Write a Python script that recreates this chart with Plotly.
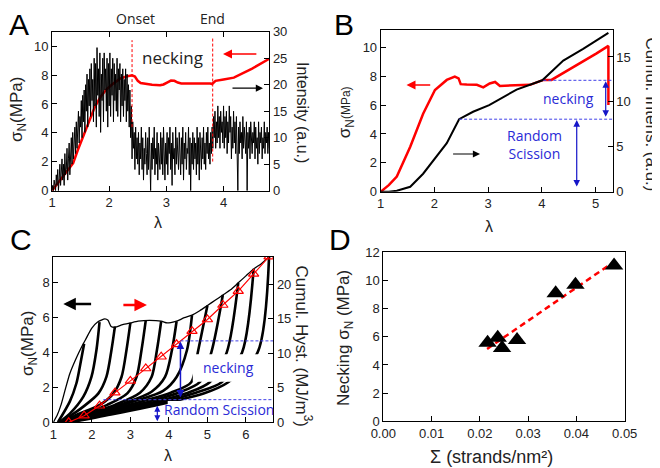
import plotly.graph_objects as go

# ---------------- Panel A ----------------
lam_a = [1.0, 1.1, 1.2, 1.3, 1.37, 1.45, 1.55, 1.65, 1.75, 1.85, 1.95, 2.05, 2.19, 2.3, 2.4,
         2.45, 2.5, 2.55, 2.65, 2.75, 2.89, 2.95, 3.02, 3.08, 3.14, 3.2, 3.26, 3.4, 3.6, 3.77,
         3.8, 3.86, 4.0, 4.18, 4.5, 4.8]
stress_a = [0, 0.5, 1.0, 1.5, 1.9, 2.8, 3.8, 4.8, 5.8, 6.5, 7.0, 7.35, 7.75, 7.9, 7.98,
            7.9, 7.6, 7.45, 7.38, 7.33, 7.29, 7.35, 7.5, 7.62, 7.6, 7.48, 7.42, 7.43, 7.44, 7.42,
            7.38, 7.6, 7.7, 7.82, 8.45, 9.13]
int_a = [0, 1, 0, 2, 1, 0, 3, 1, 4, 0, 2, 5, 1, 3, 6, 2, 5, 1, 7, 3,
         4, 8, 2, 6, 9, 3, 7, 10, 5, 11, 6, 9, 12, 7, 13, 8, 11, 15, 9, 14,
         12, 17, 10, 18, 13, 19, 11, 20, 15, 22, 12, 21, 16, 23, 14, 24, 17, 21, 13, 25,
         16, 24, 12, 27, 18, 23, 14, 26, 11, 22, 17, 25, 13, 26, 19, 23, 15, 25, 12, 24,
         16, 26, 14, 23, 18, 25, 13, 24, 17, 22, 15, 25, 14, 23, 19, 24, 13, 22, 16, 23,
         14, 21, 17, 23, 13, 22, 15, 20, 12, 19, 10, 16, 6, 13, 8, 11, 4, 12, 6, 10,
         5, 11, 3, 9, 6, 12, 4, 10, 2, 8, 5, 11, 7, 3, 10, 4, 12, 6, 0, 9,
         4, 10, 6, 12, 3, 8, 5, 11, 2, 9, 7, 4, 11, 5, 10, 3, 12, 6, 2, 9,
         5, 11, 3, 10, 7, 12, 4, 9, 1, 11, 6, 8, 3, 12, 5, 10, 7, 4, 11, 6,
         3, 10, 5, 12, 2, 9, 6, 11, 4, 8, 7, 12, 3, 10, 0, 9, 5, 11, 4, 10,
         6, 9, 3, 12, 5, 10, 2, 11, 7, 4, 10, 6, 12, 5, 9, 4, 11, 7, 12, 6,
         9, 5, 11, 7, 12, 8, 14, 10, 15, 8, 13, 9, 16, 10, 14, 8, 15, 11, 13, 9,
         16, 8, 14, 10, 15, 7, 13, 9, 16, 11, 14, 6, 12, 8, 15, 9, 13, 7, 14, 8,
         0, 12, 7, 13, 9, 11, 6, 14, 8, 12, 10, 7, 13, 0, 11, 8, 12, 6, 13, 9,
         7, 11, 9, 13, 6, 12, 8, 10, 5, 13, 7, 11, 9, 12, 6, 10, 8, 13, 7, 11,
         9, 12, 7, 11, 8]
lam_step_a = 0.0125
lam_int_a = [round(1.0 + lam_step_a * i, 4) for i in range(len(int_a))]
onset_lam, end_lam = 2.40, 3.81
onset_span = [12.0, 28.4]   # intensity units
end_span = [5.5, 28.9]

# ---------------- Panel B ----------------
lam_b_red = [1.0, 1.15, 1.3, 1.55, 1.79, 2.01, 2.23, 2.38, 2.45, 2.49, 2.6, 2.79, 2.91, 3.03,
             3.13, 3.22, 3.5, 3.78, 4.03, 4.18, 5.02, 5.24, 5.24]
stress_b = [0, 0.45, 1.05, 3.12, 5.4, 7.04, 7.74, 7.97, 7.85, 7.45, 7.42, 7.4, 7.23, 7.5,
            7.6, 7.32, 7.38, 7.4, 7.74, 7.74, 9.58, 10.1, 6.0]
lam_b_cum = [1.0, 1.15, 1.3, 1.55, 1.79, 2.04, 2.23, 2.46, 2.72, 3.02, 3.53, 4.01, 4.2, 4.4, 4.77, 5.24]
cum_b = [0, 0, 0.1, 0.55, 2.0, 3.9, 5.4, 8.07, 8.9, 9.63, 11.37, 12.4, 13.5, 14.6, 15.9, 17.67]
necking_level_b = 12.4
scission_level_b = 8.07
necking_start_b = 4.03
scission_start_b = 2.46

# ---------------- Panel C ----------------
env_lam = [1.0, 1.1, 1.2, 1.3, 1.43, 1.6, 1.74, 1.85, 2.0, 2.15, 2.34, 2.42, 2.5, 2.6, 2.8,
           3.0, 3.2, 3.5, 3.8, 3.95, 4.05, 4.2, 4.4, 4.6, 4.8, 5.0, 5.2, 5.4, 5.6, 5.8, 6.0,
           6.2, 6.4, 6.6]
env_stress = [0, 0.4, 1.0, 1.8, 2.8, 3.7, 4.35, 4.8, 5.4, 5.75, 5.93, 5.85, 5.5, 5.45, 5.6,
              5.7, 5.8, 5.85, 5.8, 5.7, 5.72, 5.8, 6.0, 6.15, 6.4, 6.7, 7.0, 7.3, 7.6, 8.0, 8.4,
              8.8, 9.1, 9.5]
cycle_lam = [
    [1.12, 1.43, 1.6, 1.69, 1.8],
    [1.15, 1.43, 1.78, 1.99, 2.12, 2.2],
    [1.2, 1.78, 2.17, 2.38, 2.51, 2.6],
    [1.25, 1.6, 2.21, 2.56, 2.77, 2.9, 3.0],
    [1.25, 1.7, 2.4, 2.92, 3.16, 3.29, 3.4],
    [1.3, 1.8, 2.6, 3.25, 3.55, 3.69, 3.8],
    [1.3, 1.9, 2.85, 3.55, 3.9, 4.08, 4.2],
    [1.3, 2.0, 3.1, 3.85, 4.2, 4.47, 4.6],
    [1.35, 2.1, 3.3, 4.05, 4.58, 4.75, 5.0],
    [1.35, 2.2, 3.5, 4.25, 4.8, 5.1, 5.4],
    [1.4, 2.3, 3.7, 4.5, 5.06, 5.5, 5.8],
    [1.4, 2.4, 3.9, 4.7, 5.37, 5.9, 6.2],
    [1.45, 2.5, 4.1, 4.9, 5.54, 6.3, 6.6],
]
cycle_stress = [
    [0, 1.2, 2.24, 3.2, 4.5],
    [0, 0.5, 1.47, 2.6, 4.15, 5.75],
    [0, 0.9, 1.66, 2.62, 4.15, 5.5],
    [0, 0.42, 1.0, 1.66, 2.6, 4.15, 5.7],
    [0, 0.4, 1.0, 1.66, 2.6, 4.15, 5.85],
    [0, 0.4, 1.0, 1.7, 2.6, 4.15, 5.8],
    [0, 0.42, 1.1, 1.75, 2.6, 4.15, 5.8],
    [0, 0.45, 1.2, 1.8, 2.6, 4.15, 6.15],
    [0, 0.46, 1.2, 1.7, 2.3, 4.0, 6.7],
    [0, 0.46, 1.2, 1.7, 2.3, 4.0, 7.3],
    [0, 0.46, 1.2, 1.7, 2.3, 4.0, 8.0],
    [0, 0.46, 1.2, 1.7, 2.3, 4.0, 8.8],
    [0, 0.45, 1.2, 1.65, 2.3, 4.0, 9.5],
]
hyst_lam = [1.4, 1.8, 2.2, 2.6, 3.0, 3.4, 3.8, 4.2, 4.6, 5.0, 5.4, 5.8, 6.2, 6.6]
hyst = [0, 0.96, 2.4, 4.3, 6.0, 7.8, 9.5, 11.3, 13.2, 14.9, 17.0, 19.0, 21.5, 24.0]
necking_level_c = 11.8     # right-axis units
scission_level_c = 3.28
necking_start_c = 4.3
scission_start_c = 2.3

# ---------------- Panel D ----------------
sigma_d = [0.0216, 0.0237, 0.0246, 0.0277, 0.0357, 0.0398, 0.0478]
neck_d = [5.58, 5.94, 5.2, 5.77, 9.1, 9.7, 11.07]
fit_x = [0.0215, 0.0481]
fit_y = [5.14, 11.4]

RED = "#ff0000"
BLUE = "#2a2ad6"
DBLUE = "#4040e8"
TF = "Liberation Sans, Arial, sans-serif"
LF = "Open Sans, Liberation Sans, sans-serif"

W, H, OFF = 660, 468, 8   # page body margin compensation


def px(xp):
    return (xp - OFF) / W


def py(yp):
    return 1 - (yp - OFF) / H


fig = go.Figure(layout=dict(template="none"))

# A
fig.add_trace(go.Scatter(x=lam_a, y=stress_a, xaxis="x", yaxis="y", mode="lines",
                         line=dict(color=RED, width=2.5)))
fig.add_trace(go.Scatter(x=lam_int_a, y=int_a, xaxis="x", yaxis="y2", mode="lines",
                         line=dict(color="black", width=1)))
for lv, sp in ((onset_lam, onset_span), (end_lam, end_span)):
    fig.add_trace(go.Scatter(x=[lv, lv], y=sp, xaxis="x", yaxis="y2", mode="lines",
                             line=dict(color=RED, width=1, dash="3px,2px")))

# B
fig.add_trace(go.Scatter(x=lam_b_red, y=stress_b, xaxis="x2", yaxis="y3", mode="lines",
                         line=dict(color=RED, width=2.5)))
fig.add_trace(go.Scatter(x=lam_b_cum, y=cum_b, xaxis="x2", yaxis="y4", mode="lines",
                         line=dict(color="black", width=2)))
fig.add_trace(go.Scatter(x=[necking_start_b, 5.32], y=[necking_level_b] * 2, xaxis="x2", yaxis="y4",
                         mode="lines", line=dict(color=DBLUE, width=1, dash="3px,2px")))
fig.add_trace(go.Scatter(x=[scission_start_b, 5.32], y=[scission_level_b] * 2, xaxis="x2", yaxis="y4",
                         mode="lines", line=dict(color=DBLUE, width=1, dash="3px,2px")))

# C
for cl, cs in zip(cycle_lam, cycle_stress):
    fig.add_trace(go.Scatter(x=cl, y=cs, xaxis="x3", yaxis="y5", mode="lines",
                             line=dict(color="black", width=2.6, shape="spline", smoothing=0.8)))
fig.add_trace(go.Scatter(x=env_lam, y=env_stress, xaxis="x3", yaxis="y5", mode="lines",
                         line=dict(color="black", width=1.3, shape="spline", smoothing=0.6)))
fig.add_trace(go.Scatter(x=hyst_lam, y=hyst, xaxis="x3", yaxis="y6", mode="lines+markers",
                         line=dict(color=RED, width=1.2),
                         marker=dict(symbol="triangle-up-open", size=9, color=RED,
                                     line=dict(color=RED, width=1.2))))
fig.add_trace(go.Scatter(x=[necking_start_c, 6.71], y=[necking_level_c] * 2, xaxis="x3", yaxis="y6",
                         mode="lines", line=dict(color=DBLUE, width=1, dash="3px,2px")))
fig.add_trace(go.Scatter(x=[scission_start_c, 6.71], y=[scission_level_c] * 2, xaxis="x3", yaxis="y6",
                         mode="lines", line=dict(color=DBLUE, width=1, dash="3px,2px")))

# D
fig.add_trace(go.Scatter(x=fit_x, y=fit_y, xaxis="x4", yaxis="y7", mode="lines",
                         line=dict(color=RED, width=2.5, dash="6px,4px")))
fig.add_trace(go.Scatter(x=sigma_d, y=neck_d, xaxis="x4", yaxis="y7", mode="markers",
                         marker=dict(symbol="triangle-up", size=16, color="black")))

tickfont = dict(family=TF, size=13, color="#222")
base = dict(showgrid=False, zeroline=False, showline=True, linecolor="black", linewidth=1,
            ticks="inside", ticklen=5, tickcolor="black", tickfont=tickfont, automargin=False)


def ax(**kw):
    d = dict(base)
    d.update(kw)
    return d


fig.update_layout(
    width=W, height=H, margin=dict(l=0, r=0, t=0, b=0, pad=0), autosize=False,
    paper_bgcolor="white", plot_bgcolor="white", showlegend=False,
    xaxis=ax(domain=[px(52), px(269.3)], range=[1, 4.8], anchor="y", tickvals=[1, 2, 3, 4], mirror="ticks"),
    yaxis=ax(domain=[py(190.7), py(31.7)], range=[0, 11], anchor="x", tickvals=[0, 2, 4, 6, 8, 10]),
    yaxis2=ax(range=[0, 30], anchor="x", overlaying="y", side="right",
              tickvals=[0, 5, 10, 15, 20, 25, 30]),
    xaxis2=ax(domain=[px(380.7), px(612.7)], range=[1, 5.32], anchor="y3", tickvals=[1, 2, 3, 4, 5], mirror=True),
    yaxis3=ax(domain=[py(191.7), py(30)], range=[0, 11.2], anchor="x2", tickvals=[0, 2, 4, 6, 8, 10]),
    yaxis4=ax(range=[0, 18], anchor="x2", overlaying="y3", side="right", tickvals=[0, 5, 10, 15]),
    xaxis3=ax(domain=[px(53.3), px(273.3)], range=[1, 6.71], anchor="y5", tickvals=[1, 2, 3, 4, 5, 6], mirror=True),
    yaxis5=ax(domain=[py(422.3), py(256.7)], range=[0, 9.5], anchor="x3", tickvals=[0, 2, 4, 6, 8]),
    yaxis6=ax(range=[0, 24], anchor="x3", overlaying="y5", side="right", tickvals=[0, 5, 10, 15, 20]),
    xaxis4=ax(domain=[px(383.3), px(624.7)], range=[0, 0.05], anchor="y7",
              tickvals=[0, 0.01, 0.02, 0.03, 0.04, 0.05], tickformat=".2f", mirror=True),
    yaxis7=ax(domain=[py(421.3), py(252.3)], range=[0, 12], anchor="x4",
              tickvals=[0, 2, 4, 6, 8, 10, 12], mirror=True),
)

# white label boxes in panel C (hide curves behind the labels)
fig.add_shape(type="rect", xref="x3", yref="y5", x0=4.62, x1=6.66, y0=2.32, y1=3.9,
              fillcolor="white", line=dict(width=0), layer="above")
fig.add_shape(type="rect", xref="x3", yref="y5", x0=3.97, x1=6.66, y0=0.3, y1=1.22,
              fillcolor="white", line=dict(width=0), layer="above")

ann = []


def txt(text, x, y, size, xref="paper", yref="paper", angle=0, color="#222", family=TF):
    if xref == "paper":
        x = px(x)
    if yref == "paper":
        y = py(y)
    ann.append(dict(text=text, x=x, y=y, xref=xref, yref=yref, showarrow=False, textangle=angle,
                    font=dict(size=size, color=color, family=family), xanchor="center", yanchor="middle"))


def arrow(x, y, axx, ayy, xref, yref, color, width, both=False, size=1.0):
    ann.append(dict(x=x, y=y, ax=axx, ay=ayy, xref=xref, yref=yref, axref=xref, ayref=yref, text="",
                    showarrow=True, arrowhead=2, arrowsize=size, arrowwidth=width, arrowcolor=color,
                    arrowside="end+start" if both else "end", startarrowhead=2, startarrowsize=size,
                    standoff=0, startstandoff=0))


# panel letters (positions in reference pixels)
txt("A", 19, 25, 30, color="black")
txt("B", 344, 25, 30, color="black")
txt("C", 21, 239, 30, color="black")
txt("D", 340, 239, 30, color="black")

# A titles
txt("σ<sub>N</sub>(MPa)", 18, 110, 17, angle=-90)
txt("Intensity (a.u.)", 303, 112, 16, angle=90)
txt("λ", 158, 222.5, 16)
txt("Onset", 135, 18, 14, family=LF)
txt("End", 212, 18, 14, family=LF)
txt("necking", 172, 58, 17, family=LF)
arrow(3.99, 9.46, 4.60, 9.46, "x", "y", RED, 1.5, size=1.2)
arrow(4.69, 7.09, 4.13, 7.09, "x", "y", "black", 1.2, size=1.2)

# B titles
txt("σ<sub>N</sub><span style='font-size:12px'>(MPa)</span>", 346.7, 112.5, 17, angle=-90)
txt("Cumul. Intens. (a.u.)", 650.5, 114, 17, angle=90)
txt("λ", 489.3, 226.7, 16)
txt("necking", 4.5, 10.4, 14, xref="x2", yref="y4", color=BLUE, family=LF)
txt("Random<br>Scission", 3.87, 5.2, 14, xref="x2", yref="y4", color=BLUE, family=LF)
arrow(1.48, 7.39, 1.95, 7.39, "x2", "y3", RED, 1.5, size=1.2)
arrow(2.85, 2.61, 2.32, 2.61, "x2", "y3", "black", 1.2, size=1.2)
arrow(5.19, necking_level_b - 0.1, 5.19, scission_level_b + 0.1, "x2", "y4", "#1515c8", 1.2, both=True, size=1.1)
arrow(4.65, scission_level_b - 0.1, 4.65, 0.4, "x2", "y4", "#1515c8", 1.2, both=True, size=1.1)

# C titles
txt("σ<sub>N</sub>(MPa)", 29, 343, 17, angle=-90)
txt("Cumul. Hyst. (MJ/m<sup>3</sup>)", 304, 346.5, 17, angle=90)
txt("λ", 168.3, 455.7, 16)
txt("necking", 5.55, 3.16, 14, xref="x3", yref="y5", color=BLUE, family=LF)
txt("Random Scission", 5.31, 0.71, 14, xref="x3", yref="y5", color=BLUE, family=LF)
arrow(1.26, 6.79, 2.02, 6.79, "x3", "y5", "black", 2.5, size=1.0)
arrow(3.43, 6.73, 2.78, 6.73, "x3", "y5", RED, 2.5, size=1.0)
arrow(4.3, necking_level_c - 0.1, 4.3, scission_level_c + 0.1, "x3", "y6", "#1515c8", 1.5, both=True, size=1.0)
arrow(3.7, 0.15, 3.7, 2.6, "x3", "y6", "#1515c8", 1.2, both=True, size=1.0)

# D titles
txt("Necking σ<sub>N</sub> (MPa)", 345, 338, 17, angle=-90)
txt("Σ (strands/nm²)", 491, 457, 18)

fig.update_layout(annotations=ann)
fig.write_html("out.html")
